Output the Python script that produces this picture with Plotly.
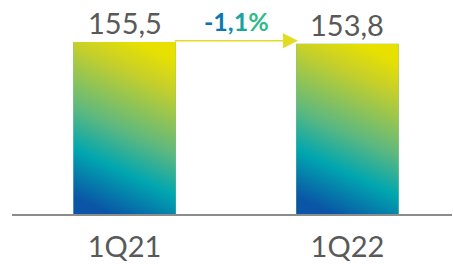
import base64
import plotly.graph_objects as go

categories = ["1Q21", "1Q22"]
values = [155.5, 153.8]
value_labels = ["155,5", "153,8"]
change_label = "-1,1%"

bw = 0.46
FONT = "Lato"
GRAY = "#595959"

svg = ('<svg xmlns="http://www.w3.org/2000/svg" width="100" height="170" viewBox="0 0 100 170" '
       'preserveAspectRatio="none"><defs><linearGradient id="g" x1="0.36" y1="1" x2="0.64" y2="0">'
       '<stop offset="0" stop-color="#0a55a6"/><stop offset="0.26" stop-color="#00a6b0"/>'
       '<stop offset="0.48" stop-color="#5cb880"/><stop offset="0.83" stop-color="#c8d028"/>'
       '<stop offset="1" stop-color="#e8e100"/>'
       '</linearGradient></defs><rect width="100" height="170" fill="url(#g)"/></svg>')
src = "data:image/svg+xml;base64," + base64.b64encode(svg.encode()).decode()

xs = list(range(len(categories)))
fig = go.Figure(go.Bar(x=xs, y=values, width=bw, marker=dict(color="#5cb87a", line=dict(width=0)),
                       hoverinfo="skip"))

images = []
for i, v in zip(xs, values):
    images.append(dict(source=src, xref="x", yref="y", x=i - bw / 2, y=v, sizex=bw, sizey=v,
                       xanchor="left", yanchor="top", sizing="stretch", layer="above"))

annotations = []
for i, v, t in zip(xs, values, value_labels):
    annotations.append(dict(x=i, y=v, xref="x", yref="y", text=t, showarrow=False, yanchor="bottom",
                            yshift=0, font=dict(family=FONT, size=29, color=GRAY)))

arrow_y = values[0] + 1.2
annotations.append(dict(x=xs[1] - bw / 2 + 0.008, y=arrow_y, ax=xs[0] + bw / 2 - 0.012, ay=arrow_y,
                        xref="x", yref="y", axref="x", ayref="y", text="", showarrow=True,
                        arrowhead=2, arrowsize=2, arrowwidth=1.5, arrowcolor="#e2dd22"))

char_colors = ["#0b72b0", "#0b78b0", "#1190aa", "#1aa39f", "#30ba8a"]
rich = "".join(f"<span style='color:{c}'>{ch}</span>" for ch, c in zip(change_label, char_colors))
annotations.append(dict(x=0.5, y=arrow_y, xref="x", yref="y", text="<b>" + rich + "</b>", showarrow=False,
                        yanchor="middle", yshift=20, font=dict(family=FONT, size=25)))

fig.update_layout(
    width=453, height=264,
    margin=dict(l=12, r=1, t=10, b=47),
    paper_bgcolor="white", plot_bgcolor="white",
    showlegend=False,
    images=images,
    annotations=annotations,
    xaxis=dict(range=[-0.505, 1.469], tickvals=xs, ticktext=categories, showgrid=False, zeroline=False,
               showline=True, linecolor="#8c8c8c", linewidth=2, ticks="", ticklabelstandoff=6,
               tickfont=dict(family=FONT, size=29, color=GRAY), fixedrange=True),
    yaxis=dict(range=[0, 184.4], visible=False, fixedrange=True),
)

fig.write_html("out.html", config={"displayModeBar": False},
               post_script="document.body.style.margin='0';")
